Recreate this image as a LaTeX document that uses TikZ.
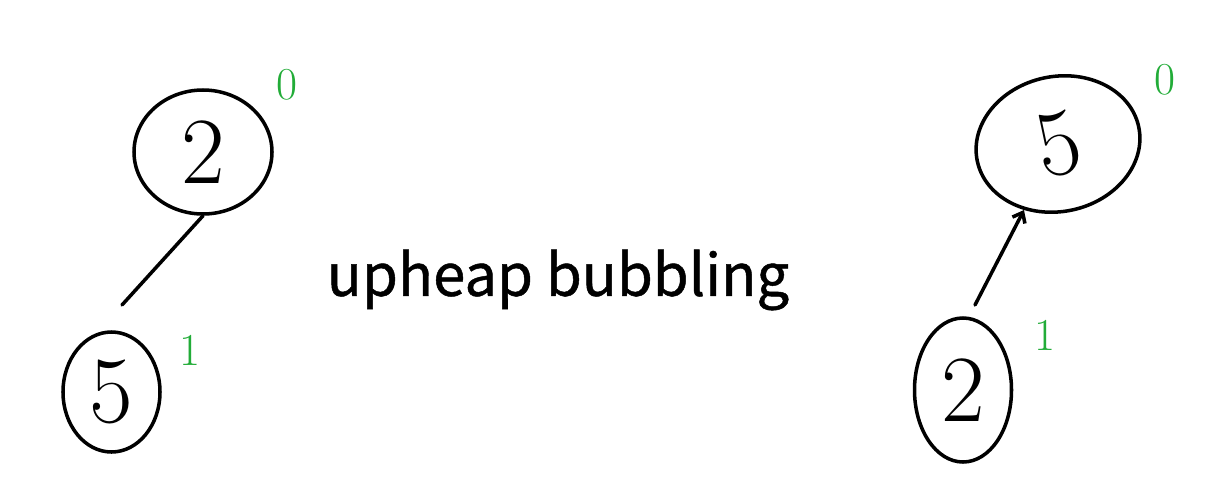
\documentclass[tikz,border=0pt]{standalone}
\usepackage{fontspec}
\newfontfamily\captionfont[FakeBold=0.8]{Noto Sans CJK SC}
\usetikzlibrary{shapes.geometric, arrows.meta}
\definecolor{handgreen}{RGB}{34,172,56}

\begin{document}
\begin{tikzpicture}[heapnode/.style={ellipse, draw, line width=2pt, inner sep=0pt, font=\fontsize{54}{54}\selectfont}, levelno/.style={text=handgreen, font=\fontsize{26}{26}\selectfont}, edge/.style={line width=2pt, line cap=round}]
			\useasboundingbox (0,0) rectangle (24.56,9.8);
			% before the swap
			\node[heapnode, minimum width=2.76cm, minimum height=2.48cm] (ltop) at (4.06,6.76) {2};
			\node[heapnode, minimum width=1.94cm, minimum height=2.4cm] (lbot) at (2.23,1.96) {5};
			\node[levelno] (ltopno) at (5.74,8.1) {0};
			\node[levelno] (lbotno) at (3.8,2.8) {1};
			\coordinate (lfree) at (2.44,3.7);
			\draw[edge] (ltop.south) -- (lfree);
			% caption
			\node[font=\captionfont\fontsize{33}{33}\selectfont] (title) at (11.16,4.2) {upheap bubbling};
			% after the swap
			\node[heapnode, rotate=12, minimum width=3.3cm, minimum height=2.7cm] (rtop) at (21.16,6.92) {5};
			\node[heapnode, minimum width=1.94cm, minimum height=2.88cm] (rbot) at (19.26,2.0) {2};
			\node[levelno] (rtopno) at (23.3,8.2) {0};
			\node[levelno] (rbotno) at (20.9,3.1) {1};
			\coordinate (rfree) at (19.5,3.7);
			\draw[edge, -{Straight Barb[length=5pt, width=8pt]}] (rfree) -- (rtop);
			\end{tikzpicture}
\end{document}
